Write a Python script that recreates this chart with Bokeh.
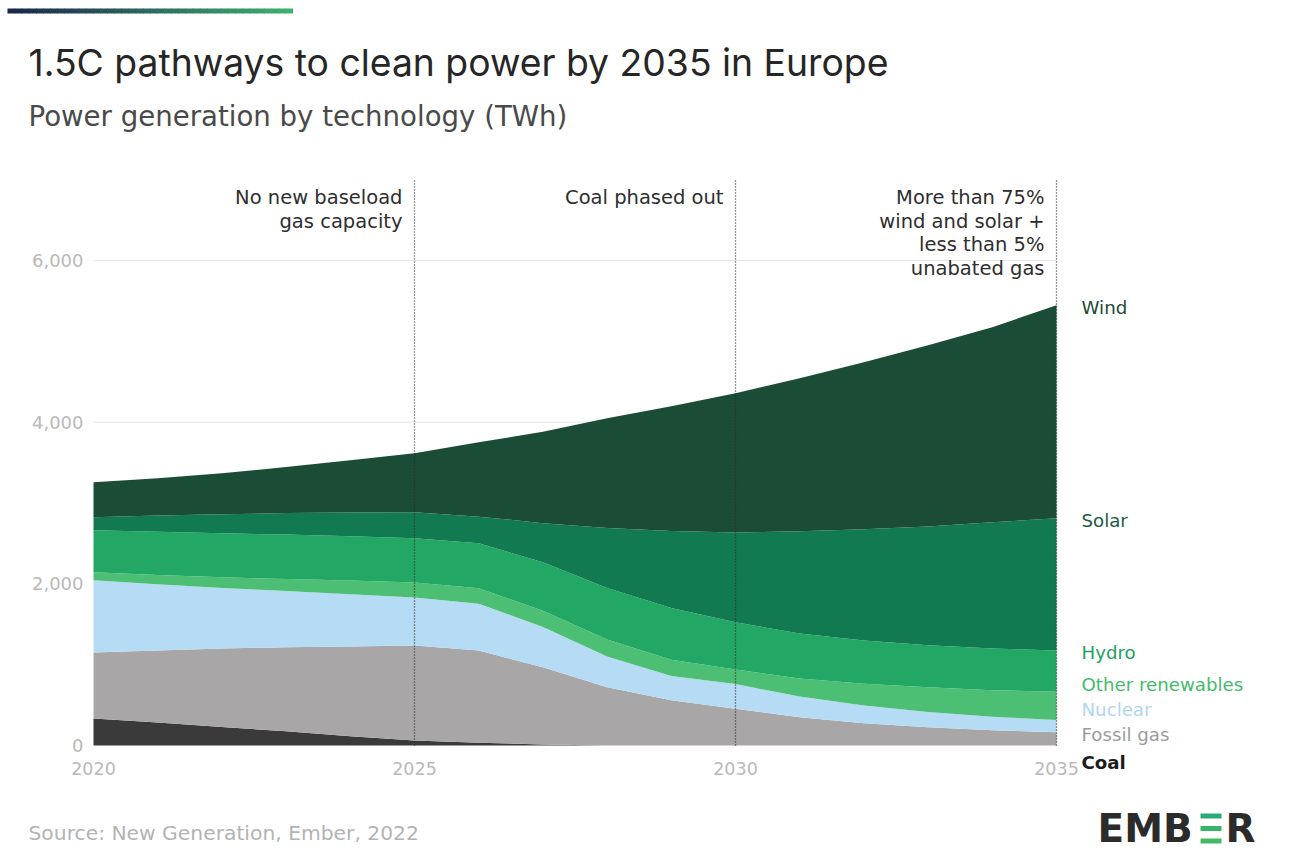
from bokeh.plotting import figure
from bokeh.models import ColumnDataSource, BoxAnnotation, Range1d
from bokeh.core.properties import value
from bokeh.embed import file_html
from bokeh.resources import INLINE

# ---------------- data (TWh) ----------------
years = list(range(2020, 2036))
coal = [334, 285, 230, 175, 115, 62, 35, 12, 0, 0, 0, 0, 0, 0, 0, 0]
fossil_gas = [817, 890, 970, 1040, 1110, 1176, 1140, 955, 720, 560, 455, 350, 275, 225, 190, 165]
nuclear = [892, 820, 750, 695, 645, 594, 580, 500, 380, 300, 305, 255, 220, 190, 165, 150]
other_renewables = [100, 115, 130, 150, 170, 186, 190, 200, 210, 200, 180, 225, 270, 305, 330, 350]
hydro = [520, 535, 545, 550, 548, 545, 556, 599, 640, 640, 585, 555, 535, 520, 516, 511]
solar = [160, 200, 235, 265, 295, 322, 330, 485, 740, 955, 1110, 1265, 1375, 1470, 1560, 1635]
wind = [433, 460, 507, 569, 645, 730, 920, 1130, 1358, 1542, 1723, 1893, 2067, 2242, 2414, 2636]

series_names = ["Coal", "Fossil gas", "Nuclear", "Other renewables", "Hydro", "Solar", "Wind"]
series_keys = ["coal", "fossil_gas", "nuclear", "other_renewables", "hydro", "solar", "wind"]
series_values = [coal, fossil_gas, nuclear, other_renewables, hydro, solar, wind]
fill_colors = ["#3b3a3b", "#a9a6a7", "#b5dcf4", "#4cbf74", "#22a864", "#127a50", "#1b4d36"]
label_colors = ["#1c1c1c", "#9c9c9c", "#b0d6f0", "#45bb6c", "#22a060", "#1d5c40", "#1d4a35"]
label_styles = ["bold", "normal", "normal", "normal", "normal", "normal", "normal"]

x_ticks = [2020, 2025, 2030, 2035]
y_ticks = [0, 2000, 4000, 6000]
grid_values = [2000, 4000, 6000]

milestone_years = [2025, 2030, 2035]
milestone_texts = [
    ["No new baseload", "gas capacity"],
    ["Coal phased out"],
    ["More than 75%", "wind and solar +", "less than 5%", "unabated gas"],
]

title_text = "1.5C pathways to clean power by 2035 in Europe"
subtitle_text = "Power generation by technology (TWh)"
source_text = "Source: New Generation, Ember, 2022"

# ---------------- layout (canvas pixels) ----------------
W, H = 1283, 851
PX_X0, PX_X1 = 93, 1056        # pixel of first / last year
PX_Y0, PX_Y6000 = 745, 260     # pixel of 0 and 6,000 TWh
X0, X1 = x_ticks[0], x_ticks[-1]
BODY = "DejaVu Sans"
TITLE_FONT = "Inter"


def xd(px):
    return X0 + (px - PX_X0) * (X1 - X0) / (PX_X1 - PX_X0)


def yd(py):
    return (PX_Y0 - py) * 6000 / (PX_Y0 - PX_Y6000)


p = figure(width=W, height=H, output_backend="svg", toolbar_location=None,
           x_range=Range1d(xd(0), xd(W)), y_range=Range1d(yd(H), yd(0)),
           x_axis_location=None, y_axis_location=None,
           min_border=0, min_border_left=0, min_border_right=0,
           min_border_top=0, min_border_bottom=0)
p.outline_line_color = None
p.grid.visible = False
p.background_fill_color = "#ffffff"
p.border_fill_color = "#ffffff"


def put_text(px, py, txt, size, color, font=BODY, align="left", style="normal"):
    p.text(x=[xd(px)], y=[yd(py)], text=[txt], text_align=align, text_baseline="middle",
           text_font=value(font), text_font_size=value(size), text_color=color,
           text_font_style=style)


# gridlines
p.segment(x0=[X0] * len(grid_values), x1=[X1] * len(grid_values),
          y0=grid_values, y1=grid_values, line_color="#e6e6e6", line_width=1)

# stacked areas
src = ColumnDataSource(dict(year=years, **{k: v for k, v in zip(series_keys, series_values)}))
p.varea_stack(stackers=series_keys, x="year", color=fill_colors, source=src)

# axis tick labels
p.text(x=[X0] * len(y_ticks), y=y_ticks, text=[f"{v:,}" for v in y_ticks], x_offset=-10,
       text_align="right", text_baseline="middle", text_font=value(BODY),
       text_font_size=value("18px"), text_color="#b9b9b9")
p.text(x=x_ticks, y=[yd(768)] * len(x_ticks), text=[str(v) for v in x_ticks],
       text_align="center", text_baseline="middle", text_font=value(BODY),
       text_font_size=value("17.5px"), text_color="#b9b9b9")

# milestone lines and notes
p.segment(x0=milestone_years, x1=milestone_years, y0=[0] * len(milestone_years),
          y1=[yd(178)] * len(milestone_years), line_color="#2a2a2a",
          line_dash="1 2", line_width=1.3)
for yr, lines in zip(milestone_years, milestone_texts):
    p.text(x=[yr] * len(lines), y=[yd(197 + i * 23.7) for i in range(len(lines))],
           text=lines, x_offset=-12, text_align="right", text_baseline="middle",
           text_font=value(BODY), text_font_size=value("19.5px"), text_color="#2e2e2e")

# right-hand series labels: stacked tops at the last year, de-overlapped bottom-up
tops = []
acc = 0
for vals in series_values:
    acc += vals[-1]
    tops.append(acc)
label_y = []
prev = None
for t in tops:
    y = -210 if prev is None else max(t - 30, prev + 310)
    label_y.append(y)
    prev = y
for name, y, col, sty in zip(series_names, label_y, label_colors, label_styles):
    p.text(x=[X1], y=[y], text=[name], x_offset=25,
           text_align="left", text_baseline="middle", text_font=value(BODY),
           text_font_size=value("18.2px"), text_color=col, text_font_style=sty)

# title / subtitle / source
put_text(28, 62, title_text, "37.3px", "#262626", font=TITLE_FONT)
put_text(28, 116, subtitle_text, "27.6px", "#4a4a4a")
put_text(28, 832, source_text, "20.3px", "#b3b3b3")

# gradient bar at the top-left
n_seg = 40
c0 = (28, 38, 78)
c1 = (62, 176, 112)
bx0, bx1 = 7, 292
for i in range(n_seg):
    f = i / (n_seg - 1)
    col = "#%02x%02x%02x" % tuple(int(a + (b - a) * f) for a, b in zip(c0, c1))
    l = bx0 + (bx1 - bx0) * i / n_seg
    r = bx0 + (bx1 - bx0) * (i + 1) / n_seg + 0.6
    p.add_layout(BoxAnnotation(left=xd(l), right=xd(r), top=yd(8), bottom=yd(13),
                               fill_color=col, fill_alpha=1, line_color=None))

# EMBER logo
put_text(1097, 828, "EMB", "39px", "#2b2b2b", style="bold")
for yy, col in zip([813, 825.5, 838], ["#2aa979", "#38b36c", "#45b866"]):
    p.add_layout(BoxAnnotation(left=xd(1200), right=xd(1221), top=yd(yy), bottom=yd(yy + 5),
                               fill_color=col, fill_alpha=1, line_color=None))
put_text(1225, 828, "R", "39px", "#2b2b2b", style="bold")

open("out.html", "w").write(file_html(p, INLINE))
